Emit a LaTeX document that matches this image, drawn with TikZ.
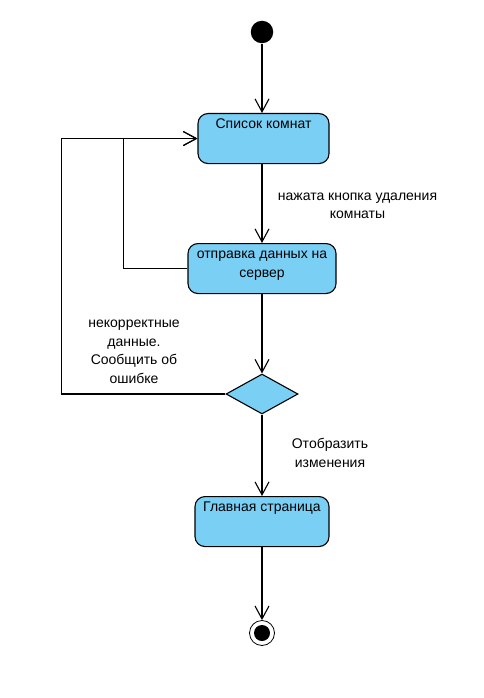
\documentclass[tikz,border=0pt]{standalone}
\usepackage{fontspec}
\setmainfont{Liberation Sans}
\usetikzlibrary{arrows.meta, shapes.geometric}
\definecolor{statefill}{RGB}{122,207,245}

\begin{document}
\begin{tikzpicture}[x=1pt, y=-1pt, line width=1.1pt,
    every node/.style={font=\fontsize{14}{19}\selectfont},
    flow/.style={-{Straight Barb[length=13pt, width=14pt, line width=1.1pt]}},
    state/.style={draw, fill=statefill, rounded corners=10pt, anchor=north,
        minimum height=50pt, inner sep=3pt, text height=12pt, text depth=32pt, align=center},
    guard/.style={anchor=north, align=center, inner sep=0pt, text depth=3pt,
        font=\fontsize{14}{18.5}\selectfont}]
\useasboundingbox (0,0) rectangle (483,698);

% Initial and final states
\node[circle, fill, inner sep=0, minimum size=22.5pt] (start) at (262,32) {};
\node[circle, draw, fill=white, inner sep=0, minimum size=25pt, line width=0.8pt] (finish) at (262,633) {};
\fill (finish.center) circle [radius=8pt];

% Activities
\node[state, minimum width=131pt] (room-list) at (263.5,113) {Список комнат};
\node[state, minimum width=148pt, text height=31pt, text depth=13pt] (send-data) at (262,243) {отправка данных на\\сервер};
\node[diamond, draw, fill=statefill, inner sep=0, minimum width=72pt, minimum height=40pt] (check) at (262,394) {};
\node[state, minimum width=134pt] (main-page) at (262,496) {Главная страница};

% Transitions
\draw[flow] (start) -- (start |- room-list.north);
\draw[flow] (send-data.north |- room-list.south) -- (send-data.north);
\draw[flow] (send-data) -- (check);
\draw[flow] (check) -- (main-page);
\draw[flow] (main-page) -- (finish);
\draw[flow] (send-data.west) -- ++(-64,0) |- (room-list.west);
\draw[flow] (check.west) -- ++(-164,0) |- (room-list.west);

% Guards
\node[guard, text height=28.5pt] (delete-pressed) at (357.5,189.5) {нажата кнопка удаления\\комнаты};
\node[guard, text height=65.5pt] (bad-data) at (134,317) {некорректные\\данные.\\Сообщить об\\ошибке};
\node[guard, text height=28.5pt] (show-changes) at (330,438) {Отобразить\\изменения};
\end{tikzpicture}
\end{document}
